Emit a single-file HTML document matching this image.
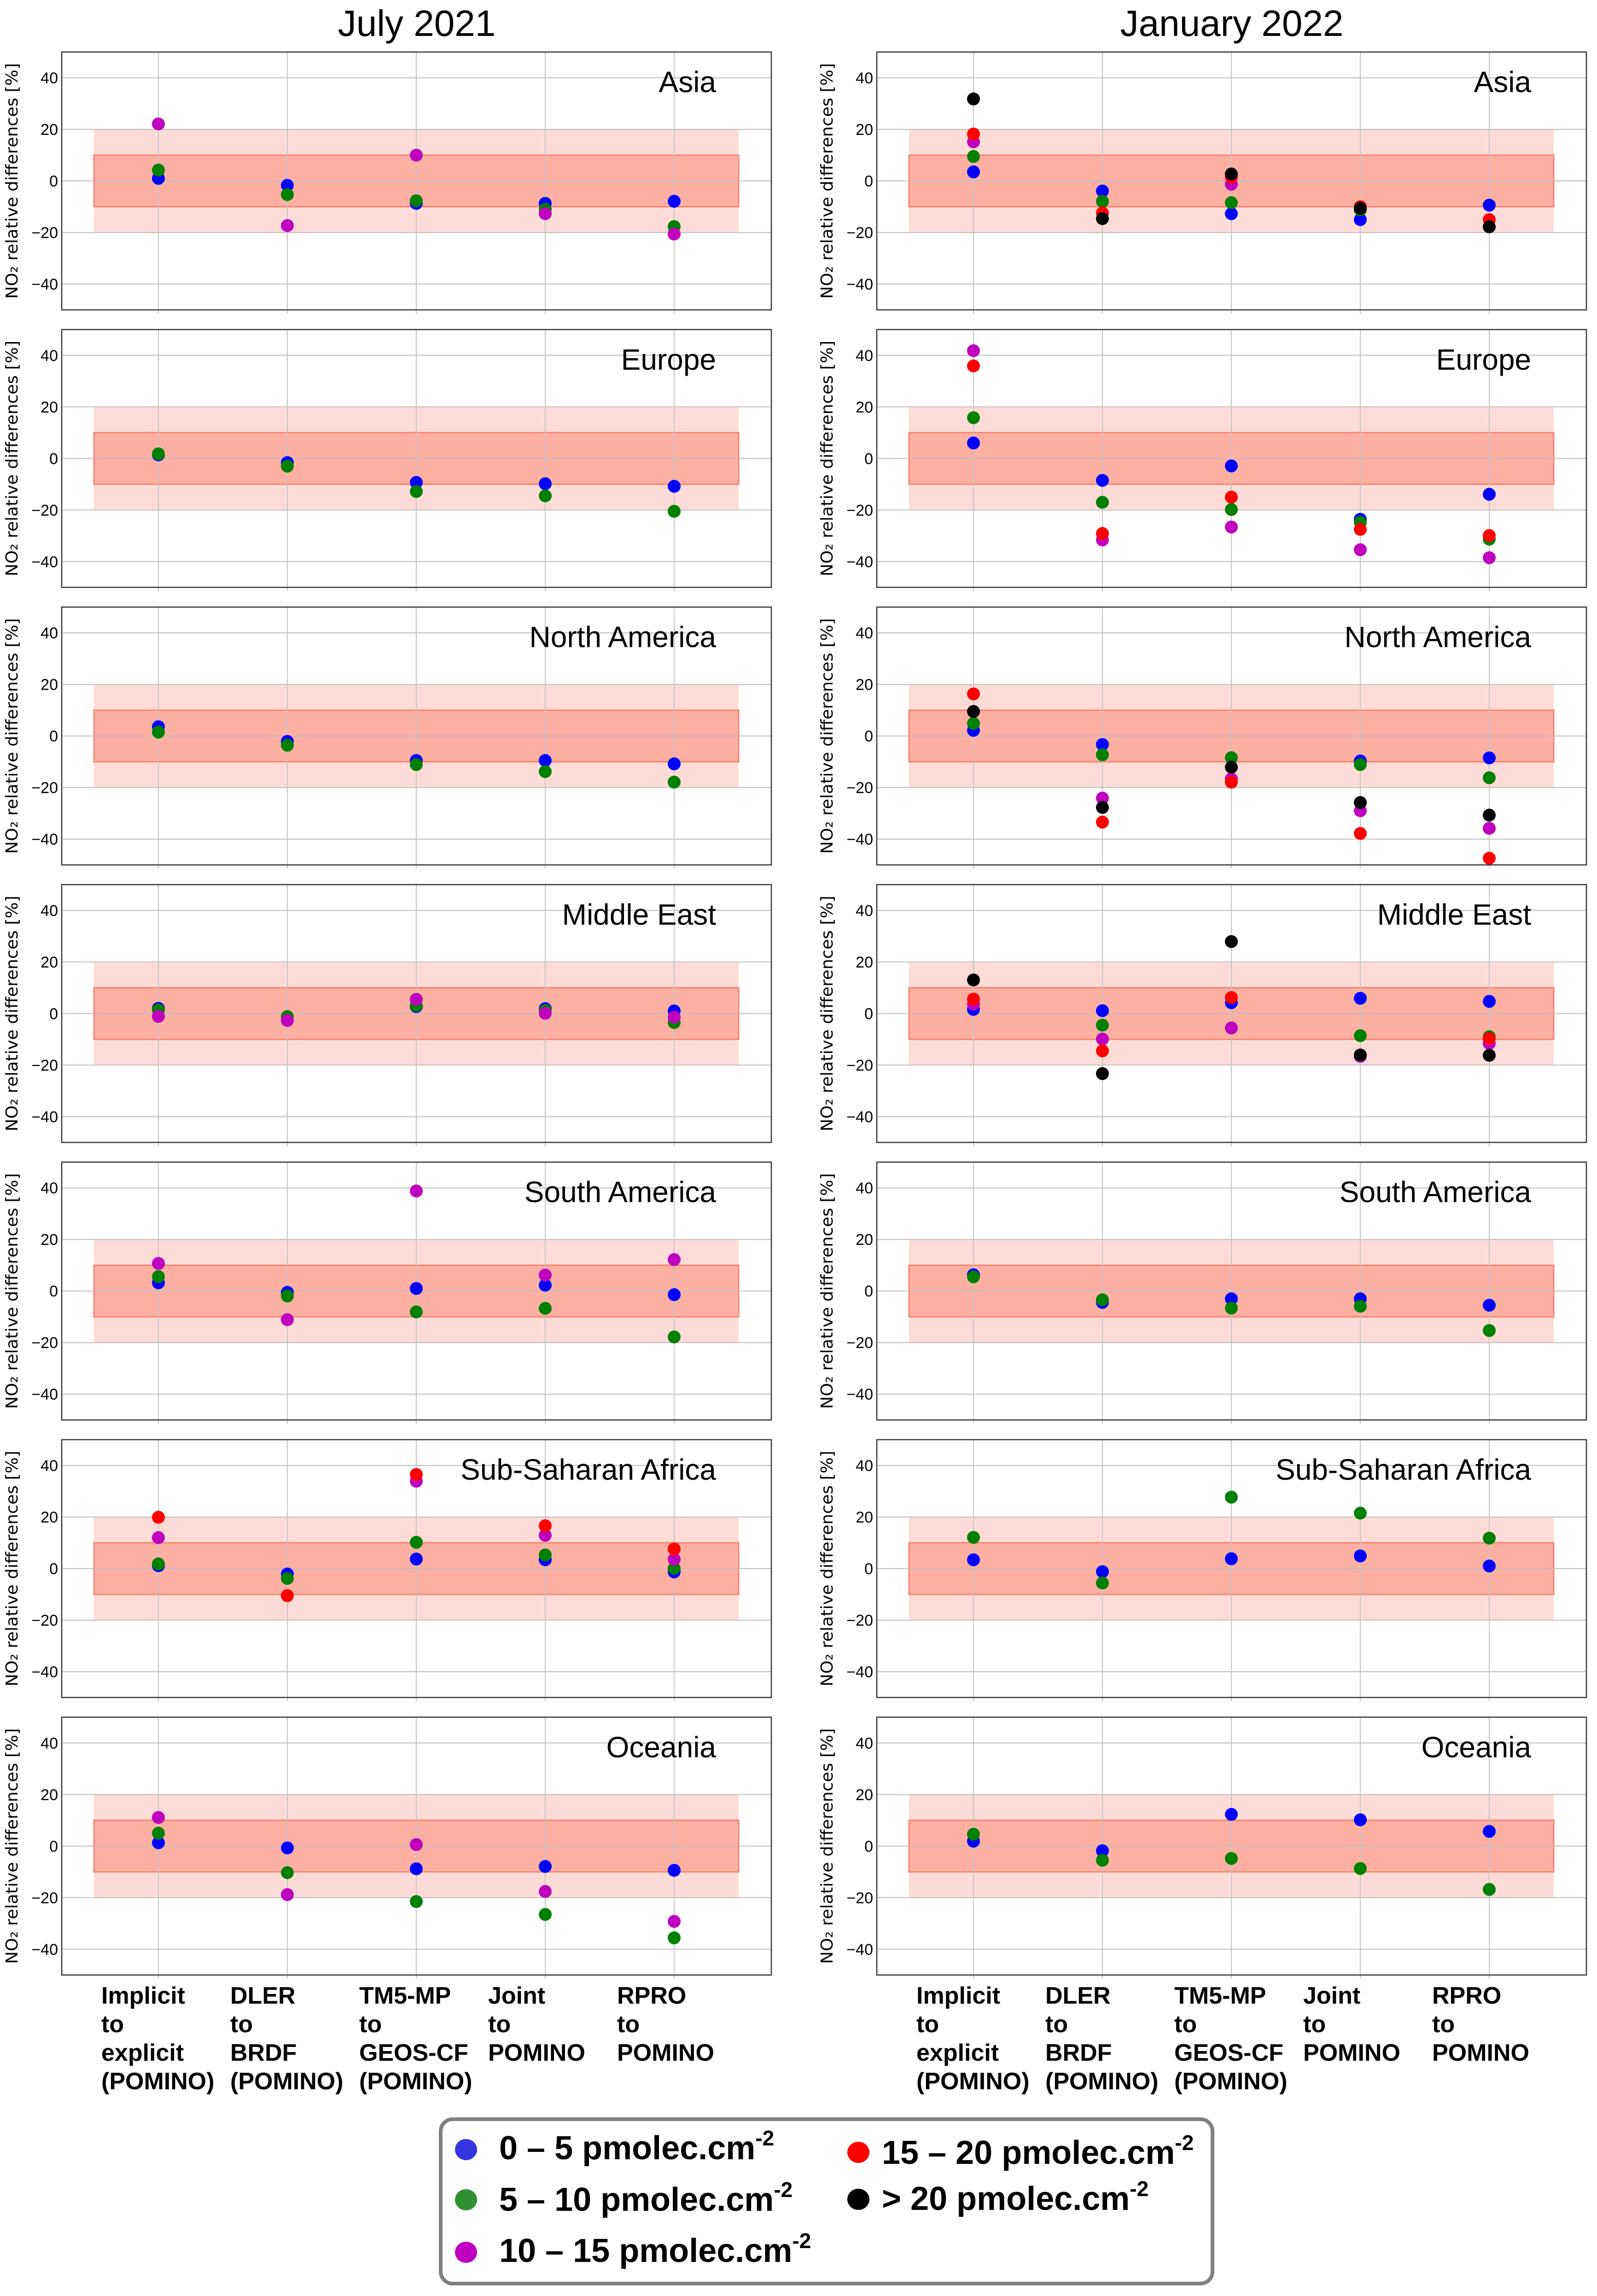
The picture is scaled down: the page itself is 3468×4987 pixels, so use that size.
<!DOCTYPE html>
<html><head><meta charset="utf-8"><style>
html,body{margin:0;padding:0;background:#fff;}
svg{display:block;}
</style></head><body>
<svg id="fig" xmlns="http://www.w3.org/2000/svg" width="3468" height="4987" viewBox="0 0 3468 4987">
<rect x="0" y="0" width="3468" height="4987" fill="#fff"/>
<text x="905" y="78" font-family="Liberation Sans, sans-serif" font-size="80" text-anchor="middle">July 2021</text>
<text x="2675" y="78" font-family="Liberation Sans, sans-serif" font-size="80" text-anchor="middle">January 2022</text>
<g id="panels"></g>
<g id="xlabels"></g>
<g>
<rect x="957" y="4603" width="1676" height="357" rx="26" ry="26" fill="#fff" stroke="#808080" stroke-width="8"/>
<ellipse cx="1012" cy="4669" rx="24" ry="23" fill="#3535e0"/>
<text x="1084" y="4690" font-family="Liberation Sans, sans-serif" font-weight="bold" font-size="72">0 – 5 pmolec.cm<tspan dy="-30" font-size="46">-2</tspan></text>
<ellipse cx="1012" cy="4778" rx="24" ry="23" fill="#319031"/>
<text x="1084" y="4802" font-family="Liberation Sans, sans-serif" font-weight="bold" font-size="72">5 – 10 pmolec.cm<tspan dy="-30" font-size="46">-2</tspan></text>
<ellipse cx="1012" cy="4892" rx="24" ry="23" fill="#c000c0"/>
<text x="1084" y="4913" font-family="Liberation Sans, sans-serif" font-weight="bold" font-size="72">10 – 15 pmolec.cm<tspan dy="-30" font-size="46">-2</tspan></text>
<ellipse cx="1864" cy="4675" rx="24" ry="23" fill="#ff0000"/>
<text x="1915" y="4700" font-family="Liberation Sans, sans-serif" font-weight="bold" font-size="72">15 – 20 pmolec.cm<tspan dy="-30" font-size="46">-2</tspan></text>
<ellipse cx="1864" cy="4777" rx="24" ry="23" fill="#000000"/>
<text x="1915" y="4800" font-family="Liberation Sans, sans-serif" font-weight="bold" font-size="72">&gt; 20 pmolec.cm<tspan dy="-30" font-size="46">-2</tspan></text>
</g>
</svg>
<script>
const regions = ["Asia","Europe","North America","Middle East","South America","Sub-Saharan Africa","Oceania"];
const categories = [["Implicit","to","explicit","(POMINO)"],["DLER","to","BRDF","(POMINO)"],["TM5-MP","to","GEOS-CF","(POMINO)"],["Joint","to","POMINO"],["RPRO","to","POMINO"]];
const yTicks = [-40,-20,0,20,40];
const N = null;
const julyBlue = [[1.0,-1.7,-8.7,-8.7,-7.9],[1.4,-1.6,-9.3,-9.8,-10.8],[3.6,-2.1,-9.5,-9.5,-10.8],[2.0,N,2.7,1.9,1.0],[3.2,-0.5,1.0,2.3,-1.4],[1.1,-2.1,3.7,3.4,-1.3],[1.3,-0.7,-8.8,-7.9,-9.4]];
const julyGreen = [[4.2,-5.3,-7.7,-11,-17.7],[1.8,-3.0,-12.8,-14.5,-20.5],[1.5,-3.6,-11.1,-13.8,-17.9],[1.4,-1.2,3.1,1.2,-3.5],[5.6,-1.9,-8.1,-6.7,-17.8],[1.8,-3.8,10.2,5.3,0.1],[5.0,-10.3,-21.5,-26.5,-35.6]];
const julyMagenta = [[22.1,-17.3,10,-12.7,-20.6],[N,N,N,N,N],[N,N,N,N,N],[-1.1,-2.7,5.5,0.1,-1.4],[10.7,-11.1,38.8,6.2,12.2],[12.0,N,33.9,12.9,3.6],[11.1,-18.8,0.6,-17.6,-29.2]];
const julyRed = [[N,N,N,N,N],[N,N,N,N,N],[N,N,N,N,N],[N,N,N,N,N],[N,N,N,N,N],[19.9,-10.5,36.5,16.6,7.6],[N,N,N,N,N]];
const julyBlack = [[N,N,N,N,N],[N,N,N,N,N],[N,N,N,N,N],[N,N,N,N,N],[N,N,N,N,N],[N,N,N,N,N],[N,N,N,N,N]];
const janBlue = [[3.5,-3.9,-12.7,-15,-9.4],[6.0,-8.5,-2.9,-23.6,-13.9],[2.2,-3.3,N,-9.7,-8.5],[1.6,1.1,4.2,5.9,4.7],[6.3,-4.4,-3.0,-3.0,-5.5],[3.4,-1.2,3.8,4.9,1.0],[1.9,-1.8,12.3,10.2,5.7]];
const janGreen = [[9.5,-7.9,-8.4,-11.2,N],[15.8,-17,-19.8,-24.7,-31.3],[4.9,-7.3,-8.4,-11.1,-16.2],[N,-4.5,N,-8.6,-9],[5.5,-3.4,-6.6,-5.9,-15.3],[12.1,-5.6,27.7,21.5,11.8],[4.6,-5.5,-4.8,-8.7,-16.8]];
const janMagenta = [[15.2,N,-1.3,N,N],[41.8,-31.6,-26.6,-35.4,-38.5],[N,-24.1,-16.6,-29,-35.8],[3.6,-9.9,-5.6,-16.6,-11.6],[N,N,N,N,N],[N,N,N,N,N],[N,N,N,N,N]];
const janRed = [[18.2,-12.4,1.5,-10,-15],[35.9,-29.1,-15,-27.5,-29.9],[16.3,-33.4,-17.9,-37.8,-47.4],[5.6,-14.5,6.2,N,-9.7],[N,N,N,N,N],[N,N,N,N,N],[N,N,N,N,N]];
const janBlack = [[31.8,-14.6,2.7,-10.6,-17.8],[N,N,N,N,N],[9.5,-27.7,-12.1,-25.8,-30.7],[13,-23.3,27.9,-16.1,-16.2],[N,N,N,N,N],[N,N,N,N,N],[N,N,N,N,N]];

const NS = "http://www.w3.org/2000/svg";
function mk(tag, attrs, parent){const e=document.createElementNS(NS,tag);for(const k in attrs)e.setAttribute(k,attrs[k]);parent.appendChild(e);return e;}
const panelsG = document.getElementById('panels');
const cols = [
  {x0:134, season:'july', series:[julyBlue,julyGreen,julyMagenta,julyRed,julyBlack]},
  {x0:1904, season:'january', series:[janBlue,janGreen,janMagenta,janRed,janBlack]}
];
const seriesColors = ['#0000ff','#008000','#bf00bf','#ff0000','#000000'];
const seriesNames = ['0-5','5-10','10-15','15-20','gt-20'];
const W = 1541, H = 560;
cols.forEach((col, ci) => {
  regions.forEach((reg, ri) => {
    const top = 113 + 602.8*ri;
    const xs = c => col.x0 + (c + 0.75) * 280;
    const ys = v => top + H/2 - v * 5.6;
    const g = mk('g', {}, panelsG);
    
    
    const b1 = mk('rect', {x:xs(-0.5), y:ys(20), width:xs(4.5)-xs(-0.5), height:ys(-20)-ys(20), fill:'#fddcd7'}, g);
    
    
    const b2 = mk('rect', {x:xs(-0.5), y:ys(10), width:xs(4.5)-xs(-0.5), height:ys(-10)-ys(10), fill:'#fdb0a2', stroke:'#f7836f', 'stroke-width':3}, g);
    
    
    yTicks.forEach(t => {
      const l = mk('line', {x1:col.x0, x2:col.x0+W, y1:ys(t), y2:ys(t), stroke:'#bdbdbd', 'stroke-width':2}, g);
      
      
      const tl = mk('text', {x:col.x0-8, y:ys(t)+12, 'font-family':'Liberation Sans, sans-serif', 'font-size':34, 'text-anchor':'end'}, g);
      
      
      tl.textContent = (t<0?'\u2212':'') + Math.abs(t);
    });
    for (let c=0;c<5;c++){
      const l = mk('line', {x1:xs(c), x2:xs(c), y1:top, y2:top+H+8, stroke:'#c4c4c4', 'stroke-width':2}, g);
      
      
    }
    const fr = mk('rect', {x:col.x0, y:top, width:W, height:H, fill:'none', stroke:'#333', 'stroke-width':2.5}, g);
    
    
    const cy = top + H/2, cx = col.x0 - 96;
    const yl = mk('text', {x:cx, y:cy, transform:`rotate(-90 ${cx} ${cy})`, 'font-family':'DejaVu Sans, sans-serif', 'font-size':36, 'text-anchor':'middle', textLength:512, lengthAdjust:'spacingAndGlyphs'}, g);
    
    
    yl.textContent = 'NO\u2082 relative differences [%]';
    const rl = mk('text', {x:col.x0+W-120, y:top+87, 'font-family':'Liberation Sans, sans-serif', 'font-size':64, 'text-anchor':'end'}, g);
    
    
    rl.textContent = reg;
    col.series.forEach((ser, si) => {
      ser[ri].forEach((v, c) => {
        if (v === null) return;
        const p = mk('circle', {cx:xs(c), cy:ys(v), r:14, fill:seriesColors[si]}, g);
        
        
      });
    });
  });
  const xl = document.getElementById('xlabels');
  categories.forEach((lines, c) => {
    const t = mk('text', {x:col.x0 + (c+0.75)*280 - 124, y:4352, 'font-family':'Liberation Sans, sans-serif', 'font-weight':'bold', 'font-size':52}, xl);
    
    
    lines.forEach((ln, i) => {
      const s = mk('tspan', {x:col.x0 + (c+0.75)*280 - 124, dy: i===0?0:62}, t);
      s.textContent = ln;
    });
  });
});
</script>
</body></html>
